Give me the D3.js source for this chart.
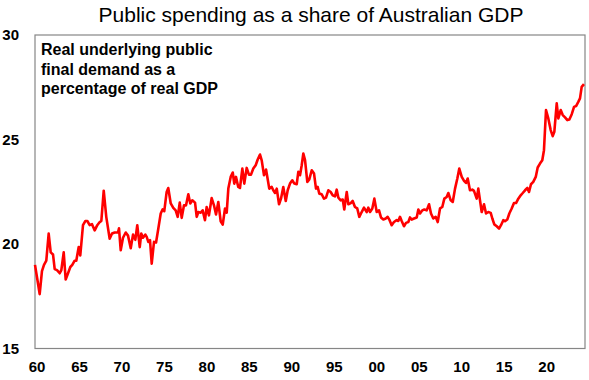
<!DOCTYPE html>
<html>
<head>
<meta charset="utf-8">
<script src="https://cdn.jsdelivr.net/npm/d3@7"></script>
<style>
  html, body { margin: 0; padding: 0; background: #fff; }
  svg { display: block; font-family: "Liberation Sans", Arial, sans-serif; }
</style>
</head>
<body>
<svg id="chart" width="589" height="380"></svg>
<script>
// ---- data (decimal year, % of real GDP) ----
const years = [
  1960.00,1960.24,1960.55,1960.82,1961.06,1961.33,1961.61,1961.85,1962.12,1962.32,
  1962.59,1962.91,1963.10,1963.38,1963.61,1963.89,1964.16,1964.39,1964.67,1964.86,
  1965.14,1965.33,1965.65,1965.92,1966.16,1966.44,1966.71,1967.03,1967.33,1967.62,
  1967.81,1968.09,1968.39,1968.79,1969.07,1969.38,1969.77,1969.89,1970.09,1970.36,
  1970.68,1970.95,1971.27,1971.54,1971.81,1972.04,1972.33,1972.51,1972.71,1972.99,
  1973.15,1973.34,1973.54,1973.74,1974.01,1974.25,1974.52,1974.80,1975.03,1975.22,
  1975.50,1975.69,1975.98,1976.28,1976.56,1976.80,1977.04,1977.27,1977.54,1977.78,
  1978.05,1978.28,1978.52,1978.84,1979.04,1979.23,1979.51,1979.74,1980.01,1980.21,
  1980.48,1980.80,1981.07,1981.31,1981.58,1981.86,1982.10,1982.37,1982.57,1982.76,
  1983.04,1983.28,1983.46,1983.66,1983.93,1984.13,1984.41,1984.64,1984.92,1985.19,
  1985.43,1985.70,1985.98,1986.22,1986.49,1986.69,1986.96,1987.20,1987.35,1987.58,
  1987.87,1988.05,1988.26,1988.46,1988.73,1988.96,1989.23,1989.52,1989.75,1990.02,
  1990.29,1990.53,1990.81,1991.00,1991.20,1991.40,1991.59,1991.79,1992.06,1992.29,
  1992.58,1992.85,1993.08,1993.28,1993.47,1993.75,1994.02,1994.26,1994.53,1994.81,
  1995.05,1995.32,1995.52,1995.71,1995.99,1996.23,1996.41,1996.70,1996.89,1997.17,
  1997.40,1997.67,1997.94,1998.18,1998.46,1998.73,1999.05,1999.24,1999.44,1999.71,
  1999.95,2000.23,2000.50,2000.73,2001.01,2001.29,2001.52,2001.71,2001.99,2002.26,
  2002.58,2002.77,2002.97,2003.17,2003.44,2003.68,2003.95,2004.15,2004.35,2004.62,
  2004.94,2005.13,2005.33,2005.60,2005.83,2006.11,2006.39,2006.62,2006.89,2007.17,
  2007.41,2007.68,2007.95,2008.19,2008.47,2008.66,2008.94,2009.18,2009.45,2009.72,
  2009.95,2010.24,2010.51,2010.74,2010.94,2011.21,2011.48,2011.68,2012.00,2012.19,
  2012.39,2012.59,2012.86,2013.10,2013.37,2013.65,2013.84,2014.07,2014.36,2014.63,
  2014.86,2015.13,2015.33,2015.60,2015.84,2016.12,2016.39,2016.63,2016.90,2017.18,
  2017.42,2017.69,2017.96,2018.16,2018.39,2018.66,2018.95,2019.18,2019.45,2019.72,
  2019.92,2020.16,2020.43,2020.71,2020.95,2021.14,2021.42,2021.61,2021.89,2022.13,
  2022.40,2022.67,2022.91,2023.19,2023.46,2023.70,2023.96,2024.16,2024.36,2024.63
];
const shareOfGDP = [
  19.00,18.40,17.60,18.70,19.00,19.20,20.50,19.60,19.50,18.80,
  18.75,18.60,18.75,19.60,18.30,18.60,18.90,19.00,19.20,19.20,
  19.85,19.45,20.90,21.10,21.10,20.90,20.95,20.65,20.90,21.05,
  21.10,22.55,21.30,20.25,20.50,20.55,20.55,20.75,19.70,20.30,
  20.55,20.40,19.80,20.45,20.20,20.90,19.85,20.50,20.30,20.45,
  20.34,20.10,20.18,19.06,20.10,20.07,20.74,21.46,21.66,21.57,
  22.49,22.68,21.94,21.73,21.61,21.30,21.98,21.25,21.85,21.85,
  22.38,21.94,22.09,21.98,21.30,21.53,21.50,21.61,21.14,21.77,
  21.37,22.20,21.85,21.41,22.01,21.09,20.93,21.70,21.50,22.65,
  23.21,23.42,22.89,23.21,22.73,22.68,23.61,22.89,23.64,23.32,
  23.32,23.61,23.77,24.04,24.28,24.00,23.29,23.56,23.21,22.65,
  22.73,22.57,22.44,22.65,21.90,22.17,22.73,22.06,22.57,22.89,
  23.05,22.89,22.86,23.45,23.29,23.77,24.33,24.01,22.97,23.09,
  23.53,23.37,22.65,22.73,22.41,22.38,22.17,22.22,22.57,22.49,
  22.33,22.28,22.60,22.22,22.09,22.13,21.65,22.49,21.90,21.96,
  22.06,21.77,21.70,21.30,21.53,21.74,21.53,21.74,21.53,21.70,
  22.17,21.53,21.61,21.27,21.17,21.22,21.30,21.17,20.90,21.05,
  21.14,21.10,21.30,21.10,20.85,21.01,21.05,21.27,21.17,21.22,
  21.27,21.65,21.46,21.61,21.65,21.61,21.90,21.46,21.22,21.30,
  21.05,21.70,21.77,22.17,22.25,22.44,22.09,22.01,22.65,23.13,
  23.61,23.21,23.02,22.92,23.13,22.57,22.60,22.54,22.17,22.65,
  22.09,21.53,21.90,21.46,21.53,21.49,21.22,20.94,20.85,20.74,
  20.90,21.14,21.09,21.17,21.46,21.70,21.96,21.96,22.17,22.33,
  22.44,22.57,22.68,22.49,22.86,22.97,23.21,23.66,23.85,24.01,
  24.49,26.41,26.01,25.45,25.16,25.37,26.73,26.01,26.41,26.17,
  26.06,25.93,25.96,26.21,26.56,26.60,26.80,26.97,27.52,27.65
];
const xTickYears = [1960,1965,1970,1975,1980,1985,1990,1995,2000,2005,2010,2015,2020];
const xTickLabels = ["60","65","70","75","80","85","90","95","00","05","10","15","20"];
const yTicks = [15,20,25,30];
const titleText = "Public spending as a share of Australian GDP";
const noteLines = ["Real underlying public","final demand as a","percentage of real GDP"];

const data = years.map((y, i) => ({ year: y, value: shareOfGDP[i] }));

// ---- layout ----
const svg = d3.select("#chart");
const plot = { left: 35, right: 585, top: 35, bottom: 348.5 };

const x = d3.scaleLinear().domain([1960, 2024.75]).range([plot.left, plot.right]);
const y = d3.scaleLinear().domain([15, 30]).range([plot.bottom, plot.top]);

// title
svg.append("text")
  .attr("x", 311).attr("y", 22)
  .attr("text-anchor", "middle")
  .attr("font-size", 21)
  .attr("fill", "#000")
  .text(titleText);

// plot frame
svg.append("rect")
  .attr("x", plot.left).attr("y", plot.top)
  .attr("width", plot.right - plot.left).attr("height", plot.bottom - plot.top)
  .attr("fill", "none").attr("stroke", "#868686").attr("stroke-width", 1.2);

// y axis labels
const yAxis = d3.axisLeft(y).tickValues(yTicks).tickSize(0).tickPadding(0).tickFormat(d3.format("d"));
const gy = svg.append("g").attr("transform", `translate(19,0)`).call(yAxis);
gy.select(".domain").remove();
gy.selectAll("text").attr("font-size", 15).attr("font-weight", "bold").attr("fill", "#000")
  .attr("font-family", "'Liberation Sans', Arial, sans-serif");

// x axis labels
const xAxis = d3.axisBottom(x).tickValues(xTickYears).tickSize(0).tickPadding(0)
  .tickFormat((d, i) => xTickLabels[i]);
const gx = svg.append("g").attr("transform", `translate(1.5,361)`).call(xAxis);
gx.select(".domain").remove();
gx.selectAll("text").attr("font-size", 15).attr("font-weight", "bold").attr("fill", "#000")
  .attr("font-family", "'Liberation Sans', Arial, sans-serif");

// line
const line = d3.line().x(d => x(d.year)).y(d => y(d.value));
svg.append("path")
  .datum(data)
  .attr("d", line)
  .attr("fill", "none")
  .attr("stroke", "#ff0000")
  .attr("stroke-width", 2.6)
  .attr("stroke-linejoin", "round");

// annotation
const note = svg.append("text")
  .attr("x", 41).attr("y", 55)
  .attr("font-size", 16).attr("font-weight", "bold").attr("fill", "#000");
noteLines.forEach((t, i) => {
  note.append("tspan").attr("x", 41).attr("y", 55 + i * 19.5).text(t);
});
</script>
</body>
</html>
